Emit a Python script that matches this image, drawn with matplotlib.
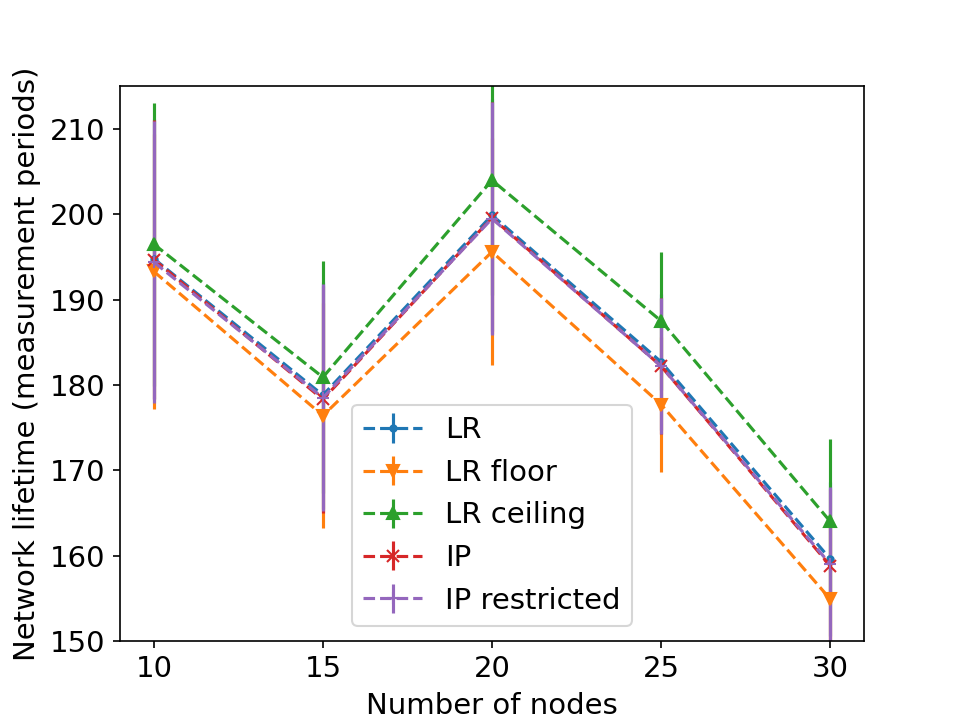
import matplotlib
matplotlib.use('Agg')
import matplotlib.pyplot as plt
import numpy as np

plt.rcParams['font.size'] = 14

nodes = [10, 15, 20, 25, 30]

# mean lifetime and std per method
lr_mean = [194.8, 178.8, 199.9, 182.7, 159.6]
lr_std = [16.4, 13.3, 13.6, 8.0, 9.0]

floor_mean = [193.3, 176.4, 195.6, 177.7, 154.9]
floor_std = [16.1, 13.2, 13.3, 7.9, 9.0]

ceil_mean = [196.5, 180.9, 204.0, 187.5, 164.0]
ceil_std = [16.6, 13.6, 13.5, 8.1, 9.7]

ip_mean = [194.7, 178.3, 199.6, 182.2, 158.8]
ip_std = [16.4, 13.3, 13.6, 8.0, 9.0]

ipr_mean = [194.4, 178.5, 199.5, 182.2, 159.0]
ipr_std = [16.5, 13.3, 13.7, 8.0, 9.0]

series = [
    ('LR', lr_mean, lr_std, '.'),
    ('LR floor', floor_mean, floor_std, 'v'),
    ('LR ceiling', ceil_mean, ceil_std, '^'),
    ('IP', ip_mean, ip_std, 'x'),
    ('IP restricted', ipr_mean, ipr_std, '+'),
]

fig = plt.figure(figsize=(6.4, 4.8), dpi=150)
ax = fig.add_subplot(111)
for label, m, s, mk in series:
    ax.errorbar(nodes, m, yerr=s, fmt='--', marker=mk, label=label)

ax.set_ylim(150, 215)
ax.set_xticks(nodes)
ax.set_xlabel('Number of nodes')
ax.set_ylabel('Network lifetime (measurement periods)')
ax.legend(loc='lower center')

fig.savefig('out.png', dpi=150)
